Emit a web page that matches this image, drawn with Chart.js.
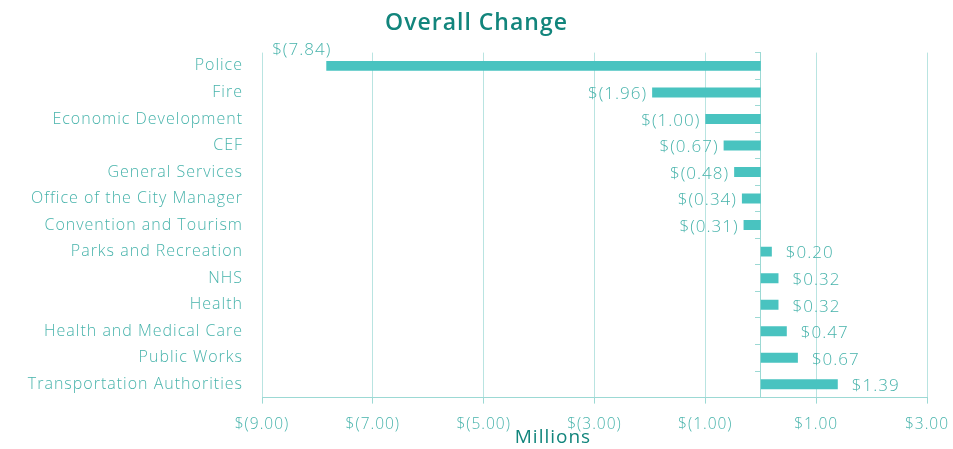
<!DOCTYPE html>
<html>
<head>
<meta charset="utf-8">
<script src="https://cdn.jsdelivr.net/npm/chart.js@4"></script>
<style>
  html, body { margin: 0; padding: 0; background: #fff; }
  #wrap { width: 953px; height: 449px; }
</style>
</head>
<body>
<div id="wrap"><canvas id="myChart"></canvas></div>
<script>
// departments and change in millions
const departments = ['Police', 'Fire', 'Economic Development', 'CEF', 'General Services',
  'Office of the City Manager', 'Convention and Tourism', 'Parks and Recreation', 'NHS',
  'Health', 'Health and Medical Care', 'Public Works', 'Transportation Authorities'];
const change = [-7.84, -1.96, -1.00, -0.67, -0.48, -0.34, -0.31, 0.20, 0.32, 0.32, 0.47, 0.67, 1.39];
const xTicks = [-9, -7, -5, -3, -1, 1, 3];

const teal = '#49c3c0';
const textTeal = '#47b3ab';
const darkTeal = '#12857c';
const gridTeal = '#b9e4e1';
const axisTeal = '#9cd9d4';
const font = "'Open Sans', 'DejaVu Sans', sans-serif";

function money(v) {
  const s = '$' + Math.abs(v).toFixed(2);
  return v < 0 ? '$(' + Math.abs(v).toFixed(2) + ')' : s;
}

// the original font is wide-spaced, so spread the letters a bit
function spread(chart) {
  chart.ctx.letterSpacing = '1px';
}
const spacing = {
  id: 'spacing',
  beforeInit: spread,
  beforeUpdate: spread,
  beforeLayout: spread,
  beforeDraw: spread
};

// value labels at the end of each bar
const barLabels = {
  id: 'barLabels',
  afterDatasetsDraw(chart) {
    const ctx = chart.ctx;
    const meta = chart.getDatasetMeta(0);
    const min = Math.min(...change);
    ctx.save();
    ctx.font = '300 17px ' + font;
    ctx.fillStyle = textTeal;
    ctx.textBaseline = 'middle';
    meta.data.forEach((bar, i) => {
      const v = change[i];
      const txt = money(v);
      if (v === min) {
        ctx.textAlign = 'right';
        ctx.fillText(txt, bar.x + 5, bar.y - 16);
      } else if (v < 0) {
        ctx.textAlign = 'right';
        ctx.fillText(txt, bar.x - 5, bar.y + 2);
      } else {
        ctx.textAlign = 'left';
        ctx.fillText(txt, bar.x + 14, bar.y + 2);
      }
    });
    ctx.restore();
  }
};

new Chart(document.getElementById('myChart'), {
  type: 'bar',
  data: {
    labels: departments,
    datasets: [{
      label: 'Overall Change',
      data: change,
      backgroundColor: teal,
      barPercentage: 0.75,
      categoryPercentage: 0.5
    }]
  },
  options: {
    indexAxis: 'y',
    responsive: true,
    maintainAspectRatio: false,
    animation: false,
    layout: { padding: 0 },
    plugins: {
      legend: { display: false },
      tooltip: { enabled: false },
      title: {
        display: true,
        text: 'Overall Change',
        color: darkTeal,
        font: { family: font, size: 23, weight: '600' },
        padding: { top: 10, bottom: 15 }
      }
    },
    scales: {
      x: {
        min: -9,
        max: 3,
        afterBuildTicks(scale) {
          scale.ticks = xTicks.map(v => ({ value: v }));
        },
        afterFit(scale) {
          scale.paddingRight = 26;
        },
        ticks: {
          color: textTeal,
          font: { family: font, size: 15.5, weight: '300' },
          padding: 12,
          maxRotation: 0,
          callback: v => money(v)
        },
        grid: { color: gridTeal, tickLength: 6, tickColor: axisTeal },
        border: { color: axisTeal },
        title: {
          display: true,
          text: 'Millions' + ' '.repeat(14),
          color: darkTeal,
          font: { family: font, size: 19 },
          padding: { top: -20, bottom: 0 }
        }
      },
      y: {
        afterFit(scale) {
          scale.width = 262;
        },
        ticks: {
          color: textTeal,
          font: { family: font, size: 16, weight: '300' },
          padding: 11
        },
        grid: { display: false },
        border: { display: false }
      },
      y2: {
        type: 'category',
        position: { x: 0 },
        ticks: { display: false },
        grid: { drawOnChartArea: false, tickLength: 5, color: axisTeal },
        border: { color: axisTeal }
      }
    }
  },
  plugins: [spacing, barLabels]
});
</script>
</body>
</html>
